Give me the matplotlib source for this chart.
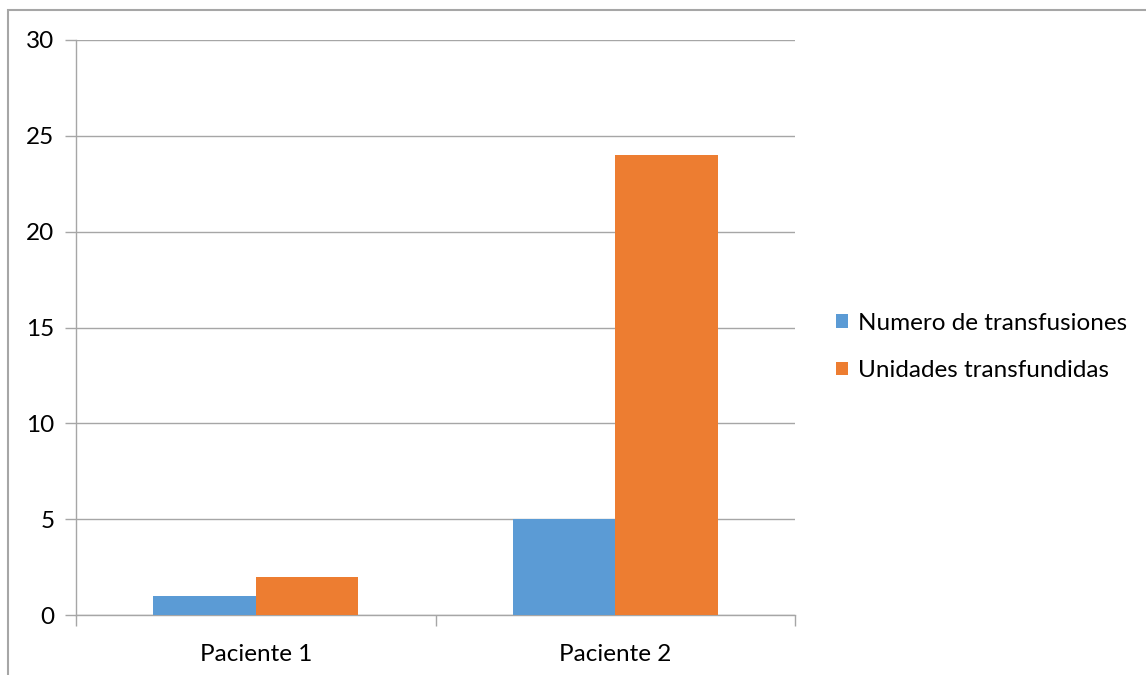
import matplotlib
matplotlib.use("Agg")
import matplotlib.pyplot as plt
from matplotlib.patches import Rectangle
import numpy as np

pacientes = ["Paciente 1", "Paciente 2"]
num_transfusiones = [1, 5]
unidades_transfundidas = [2, 24]
series_names = ["Numero de transfusiones", "Unidades transfundidas"]
series_colors = ["#5B9BD5", "#ED7D31"]
y_ticks = [0, 5, 10, 15, 20, 25, 30]

plt.rcParams['font.family'] = ['Lato', 'DejaVu Sans']
plt.rcParams['font.size'] = 17.5

W, H = 1146, 675
fig = plt.figure(figsize=(W / 100, H / 100), dpi=100)
ax = fig.add_axes([76 / W, 1 - 615 / H, (795 - 76) / W, (615 - 40) / H])

# Excel style clustered bars: gap width 150%
bar_w = 1 / 3.5
x = np.arange(len(pacientes))
ax.bar(x - bar_w / 2, num_transfusiones, bar_w, color=series_colors[0],
       label=series_names[0], zorder=3)
ax.bar(x + bar_w / 2, unidades_transfundidas, bar_w, color=series_colors[1],
       label=series_names[1], zorder=3)

grid_c = "#A6A6A6"
ax.set_xlim(-0.5, len(pacientes) - 0.5)
ax.set_ylim(0, 30)
ax.set_yticks(y_ticks)
ax.yaxis.grid(True, color=grid_c, linewidth=1.0, zorder=0)
ax.tick_params(axis='y', length=8, width=1.0, color=grid_c, pad=7.5, labelcolor="black")

ax.set_xticks(x)
ax.set_xticklabels(pacientes)
ax.set_xticks(np.arange(-0.5, len(pacientes)), minor=True)
ax.tick_params(axis='x', which='major', length=0, pad=21)
ax.tick_params(axis='x', which='minor', length=8, width=1.0, color=grid_c)

for s in ['top', 'right']:
    ax.spines[s].set_visible(False)
for s in ['left', 'bottom']:
    ax.spines[s].set_color(grid_c)
    ax.spines[s].set_linewidth(1.0)

ax.legend(loc='center left', bbox_to_anchor=(824 / W, 1 - 347 / H),
          bbox_transform=fig.transFigure, frameon=False,
          handlelength=0.48, handleheight=0.48, handletextpad=0.42,
          labelspacing=1.1, borderpad=0)

# chart area border
fig.patches.append(Rectangle((7.5 / W, -0.05), 1.2, 1.05 - 9.5 / H,
                             transform=fig.transFigure, fill=False,
                             edgecolor=grid_c, linewidth=1.5))

fig.savefig("out.png", dpi=100)
